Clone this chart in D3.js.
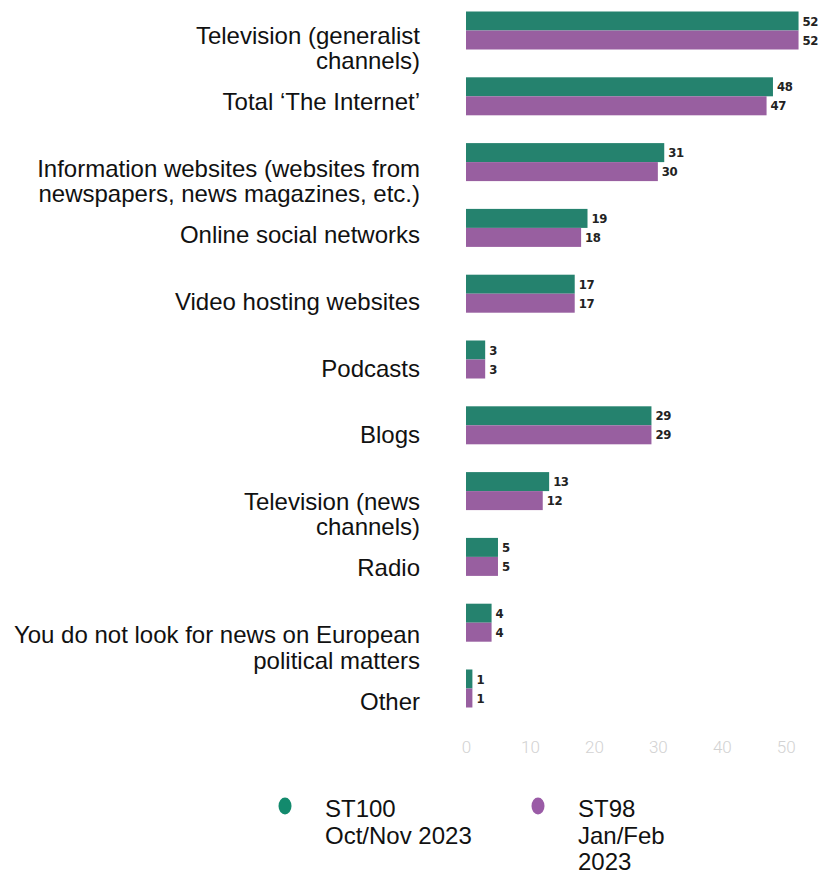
<!DOCTYPE html>
<html>
<head>
<meta charset="utf-8">
<script src="https://cdn.jsdelivr.net/npm/d3@7"></script>
<style>
  html, body { margin: 0; padding: 0; background: #ffffff; }
  svg { display: block; }
</style>
</head>
<body>
<svg id="chart" width="819" height="874"></svg>
<script>
// Where people look for news on European political matters (%)
const categories = [
  "Television (generalist\nchannels)",
  "Total \u2018The Internet\u2019",
  "Information websites (websites from\nnewspapers, news magazines, etc.)",
  "Online social networks",
  "Video hosting websites",
  "Podcasts",
  "Blogs",
  "Television (news\nchannels)",
  "Radio",
  "You do not look for news on European\npolitical matters",
  "Other"
];
const st100 = [52, 48, 31, 19, 17, 3, 29, 13, 5, 4, 1];
const st98  = [52, 47, 30, 18, 17, 3, 29, 12, 5, 4, 1];
const seriesNames = [["ST100", "Oct/Nov 2023"], ["ST98", "Jan/Feb", "2023"]];
const xTicks = [0, 10, 20, 30, 40, 50];

const colors = { st100: "#25826e", st98: "#985fa0" };
const dotColors = ["#138a6d", "#9a5ba6"];

const svg = d3.select("#chart");

const x = d3.scaleLinear().domain([0, 55]).range([466, 466 + 55 * 6.395]);

// bar rows
const y = d3.scaleBand()
  .domain(categories)
  .range([11.5, 707.5])
  .paddingInner(0.4225)
  .paddingOuter(0);
const barH = y.bandwidth() / 2;

// category label column (first-line baselines)
const yLabel = d3.scalePoint()
  .domain(categories)
  .range([43.6, 709.6]);

const rows = categories.map((c, i) => ({ cat: c, a: st100[i], b: st98[i] }));

const bars = svg.append("g");
const row = bars.selectAll("g.row").data(rows).join("g")
  .attr("class", "row")
  .attr("transform", d => `translate(0,${y(d.cat)})`);

row.append("rect")
  .attr("x", x(0)).attr("y", 0)
  .attr("width", d => x(d.a) - x(0)).attr("height", barH)
  .attr("fill", colors.st100);
row.append("rect")
  .attr("x", x(0)).attr("y", barH)
  .attr("width", d => x(d.b) - x(0)).attr("height", barH)
  .attr("fill", colors.st98);

const valStyle = sel => sel
  .attr("font-family", "'DejaVu Sans Condensed', 'DejaVu Sans', sans-serif")
  .attr("font-weight", "bold")
  .attr("font-size", 13)
  .attr("letter-spacing", -0.4)
  .attr("fill", "#222")
  .attr("dy", "0.36em");

row.append("text")
  .attr("x", d => x(d.a) + 4).attr("y", barH / 2)
  .text(d => d.a).call(valStyle);
row.append("text")
  .attr("x", d => x(d.b) + 4).attr("y", barH * 1.5)
  .text(d => d.b).call(valStyle);

// category labels
const labels = svg.append("g")
  .attr("font-family", "'Liberation Sans', Arial, sans-serif")
  .attr("font-size", 24)
  .attr("fill", "#111")
  .attr("text-anchor", "end");
labels.selectAll("text").data(categories).join("text")
  .attr("x", 420)
  .attr("y", d => yLabel(d))
  .each(function(d) {
    const t = d3.select(this);
    d.split("\n").forEach((line, i) => {
      t.append("tspan").attr("x", 420).attr("dy", i === 0 ? 0 : 25.5).text(line);
    });
  });

// value axis
const axis = svg.append("g")
  .attr("transform", "translate(0,737)")
  .call(d3.axisBottom(x).tickValues(xTicks).tickSize(0).tickPadding(0));
axis.select(".domain").remove();
axis.selectAll("text")
  .attr("font-family", "Roboto, sans-serif")
  .attr("font-weight", 300)
  .attr("font-size", 17)
  .attr("fill", "#d2d2d2")
  .attr("dy", "0.95em");

// legend
const legend = svg.append("g")
  .attr("font-family", "'Liberation Sans', Arial, sans-serif")
  .attr("font-size", 24)
  .attr("fill", "#111");
const legendX = [285, 538];
seriesNames.forEach((lines, i) => {
  legend.append("ellipse")
    .attr("cx", legendX[i]).attr("cy", 806)
    .attr("rx", 6.5).attr("ry", 8.5)
    .attr("fill", dotColors[i]);
  const t = legend.append("text").attr("x", legendX[i] + 40).attr("y", 817);
  lines.forEach((line, j) => {
    t.append("tspan").attr("x", legendX[i] + 40).attr("dy", j === 0 ? 0 : 26.5).text(line);
  });
});
</script>
</body>
</html>
